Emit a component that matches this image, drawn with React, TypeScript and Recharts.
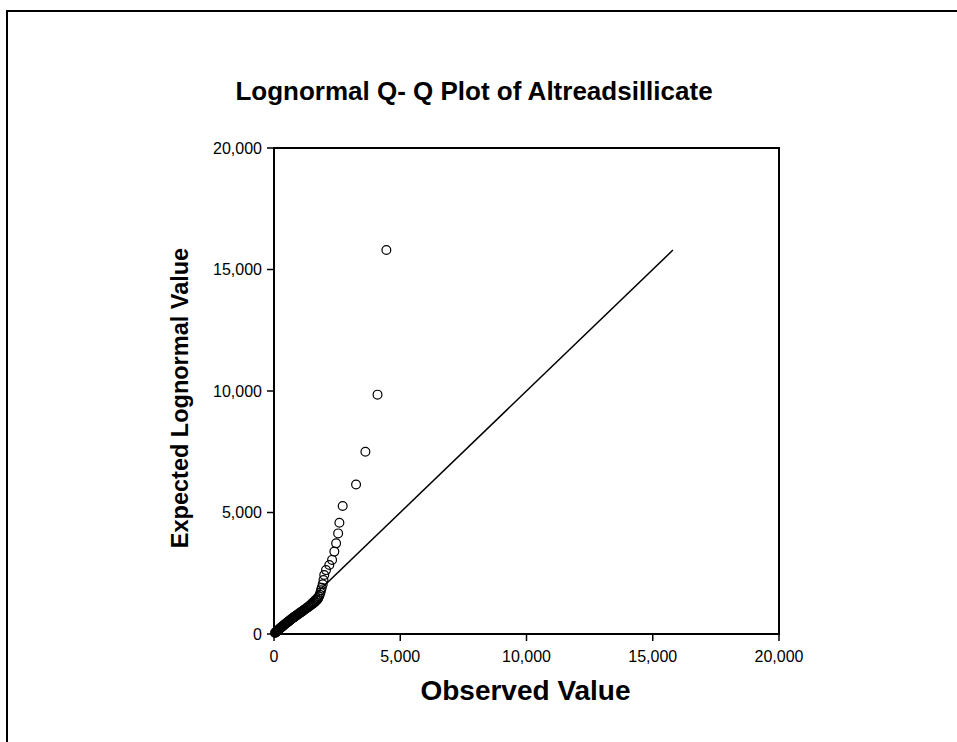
import React from "react";
import {
  ScatterChart,
  Scatter,
  XAxis,
  YAxis,
  ReferenceLine,
  ReferenceArea,
} from "recharts";

const titleText = "Lognormal Q- Q Plot of Altreadsillicate";
const xAxisTitle = "Observed Value";
const yAxisTitle = "Expected Lognormal Value";

const observedValues = [
  40, 60, 80, 100, 120, 140, 160, 180, 200, 220, 240, 260, 280, 300, 330,
  360, 390, 420, 450, 480, 510, 540, 570, 600, 630, 660, 690, 720, 750, 780,
  810, 840, 870, 900, 930, 960, 990, 1020, 1050, 1080, 1110, 1140, 1170,
  1200, 1240, 1280, 1320, 1360, 1400, 1440, 1480, 1520, 1560, 1600, 1640,
  1680, 1720, 1750, 1780, 1810, 1840, 1860, 1890, 1930, 1960, 1990, 2060,
  2190, 2300, 2390, 2460, 2540, 2590, 2720, 3250, 3620, 4100, 4450,
];

const expectedValues = [
  45, 60, 80, 100, 120, 135, 155, 175, 195, 215, 235, 250, 270, 290, 315,
  340, 365, 390, 415, 440, 465, 490, 515, 540, 565, 590, 615, 635, 660, 685,
  705, 730, 750, 775, 795, 820, 840, 860, 885, 905, 930, 950, 975, 1000,
  1030, 1060, 1085, 1115, 1145, 1175, 1205, 1235, 1265, 1300, 1335, 1375,
  1420, 1470, 1540, 1620, 1710, 1800, 1900, 2050, 2220, 2430, 2630, 2840,
  3050, 3390, 3730, 4140, 4580, 5270, 6150, 7500, 9850, 15800,
];

const axisTicks = [0, 5000, 10000, 15000, 20000];
const lineStart = 0;
const lineEnd = 15800;

const points = observedValues.map((x, i) => ({ x, y: expectedValues[i] }));

const FONT = "'Liberation Sans', Arial, sans-serif";
const fmt = (v: number) => v.toLocaleString("en-US");

const CircleShape = (props: any) => {
  const { cx, cy } = props;
  if (cx == null || cy == null) return null;
  return <circle cx={cx} cy={cy} r={4.4} fill="none" stroke="#000" strokeWidth={1.2} />;
};

export default function App() {
  return (
    <div
      style={{
        position: "fixed",
        left: 0,
        top: 0,
        width: 957,
        height: 742,
        overflow: "hidden",
        background: "#fff",
        fontFamily: FONT,
      }}
    >
      <ScatterChart
        width={957}
        height={742}
        margin={{ top: 148, right: 178, bottom: 8, left: 174 }}
      >
        <XAxis
          type="number"
          dataKey="x"
          domain={[0, 20000]}
          ticks={axisTicks}
          tickFormatter={fmt}
          height={100}
          axisLine={{ stroke: "#000", strokeWidth: 2 }}
          tickLine={{ stroke: "#000", strokeWidth: 1.5 }}
          tickSize={7}
          tickMargin={10}
          tick={{ fill: "#000", fontSize: 16, fontFamily: FONT }}
          label={{
            content: (p: any) => {
              const vb = p.viewBox || {};
              return (
                <text
                  x={vb.x + vb.width / 2 - 1}
                  y={vb.y + 66}
                  textAnchor="middle"
                  fontSize={28}
                  fontWeight="bold"
                  fontFamily={FONT}
                  fill="#000"
                >
                  {xAxisTitle}
                </text>
              );
            },
          }}
        />
        <YAxis
          type="number"
          dataKey="y"
          domain={[0, 20000]}
          ticks={axisTicks}
          tickFormatter={fmt}
          width={100}
          axisLine={{ stroke: "#000", strokeWidth: 2 }}
          tickLine={{ stroke: "#000", strokeWidth: 1.5 }}
          tickSize={7}
          tickMargin={5}
          tick={{ fill: "#000", fontSize: 16, fontFamily: FONT }}
          label={{
            content: (p: any) => {
              const vb = p.viewBox || {};
              const cx = vb.x + 14;
              const cy = vb.y + vb.height / 2 + 7;
              return (
                <text
                  x={cx}
                  y={cy}
                  transform={`rotate(-90, ${cx}, ${cy})`}
                  textAnchor="middle"
                  fontSize={23.5}
                  fontWeight="bold"
                  fontFamily={FONT}
                  fill="#000"
                >
                  {yAxisTitle}
                </text>
              );
            },
          }}
        />
        <ReferenceArea
          x1={0}
          x2={20000}
          y1={0}
          y2={20000}
          fill="none"
          fillOpacity={0}
          stroke="#000"
          strokeWidth={2}
          ifOverflow="visible"
        />
        <ReferenceLine
          segment={[
            { x: lineStart, y: lineStart },
            { x: lineEnd, y: lineEnd },
          ]}
          stroke="#000"
          strokeWidth={1.5}
          ifOverflow="visible"
        />
        <Scatter data={points} shape={CircleShape} isAnimationActive={false} />
      </ScatterChart>
      <svg
        width={957}
        height={742}
        style={{ position: "absolute", left: 0, top: 0, pointerEvents: "none" }}
      >
        <path d="M7,742 L7,11 L957,11" fill="none" stroke="#000" strokeWidth={2} />
        <text
          x={474}
          y={100}
          textAnchor="middle"
          fontSize={26}
          fontWeight="bold"
          fontFamily={FONT}
          fill="#000"
        >
          {titleText}
        </text>
      </svg>
    </div>
  );
}
